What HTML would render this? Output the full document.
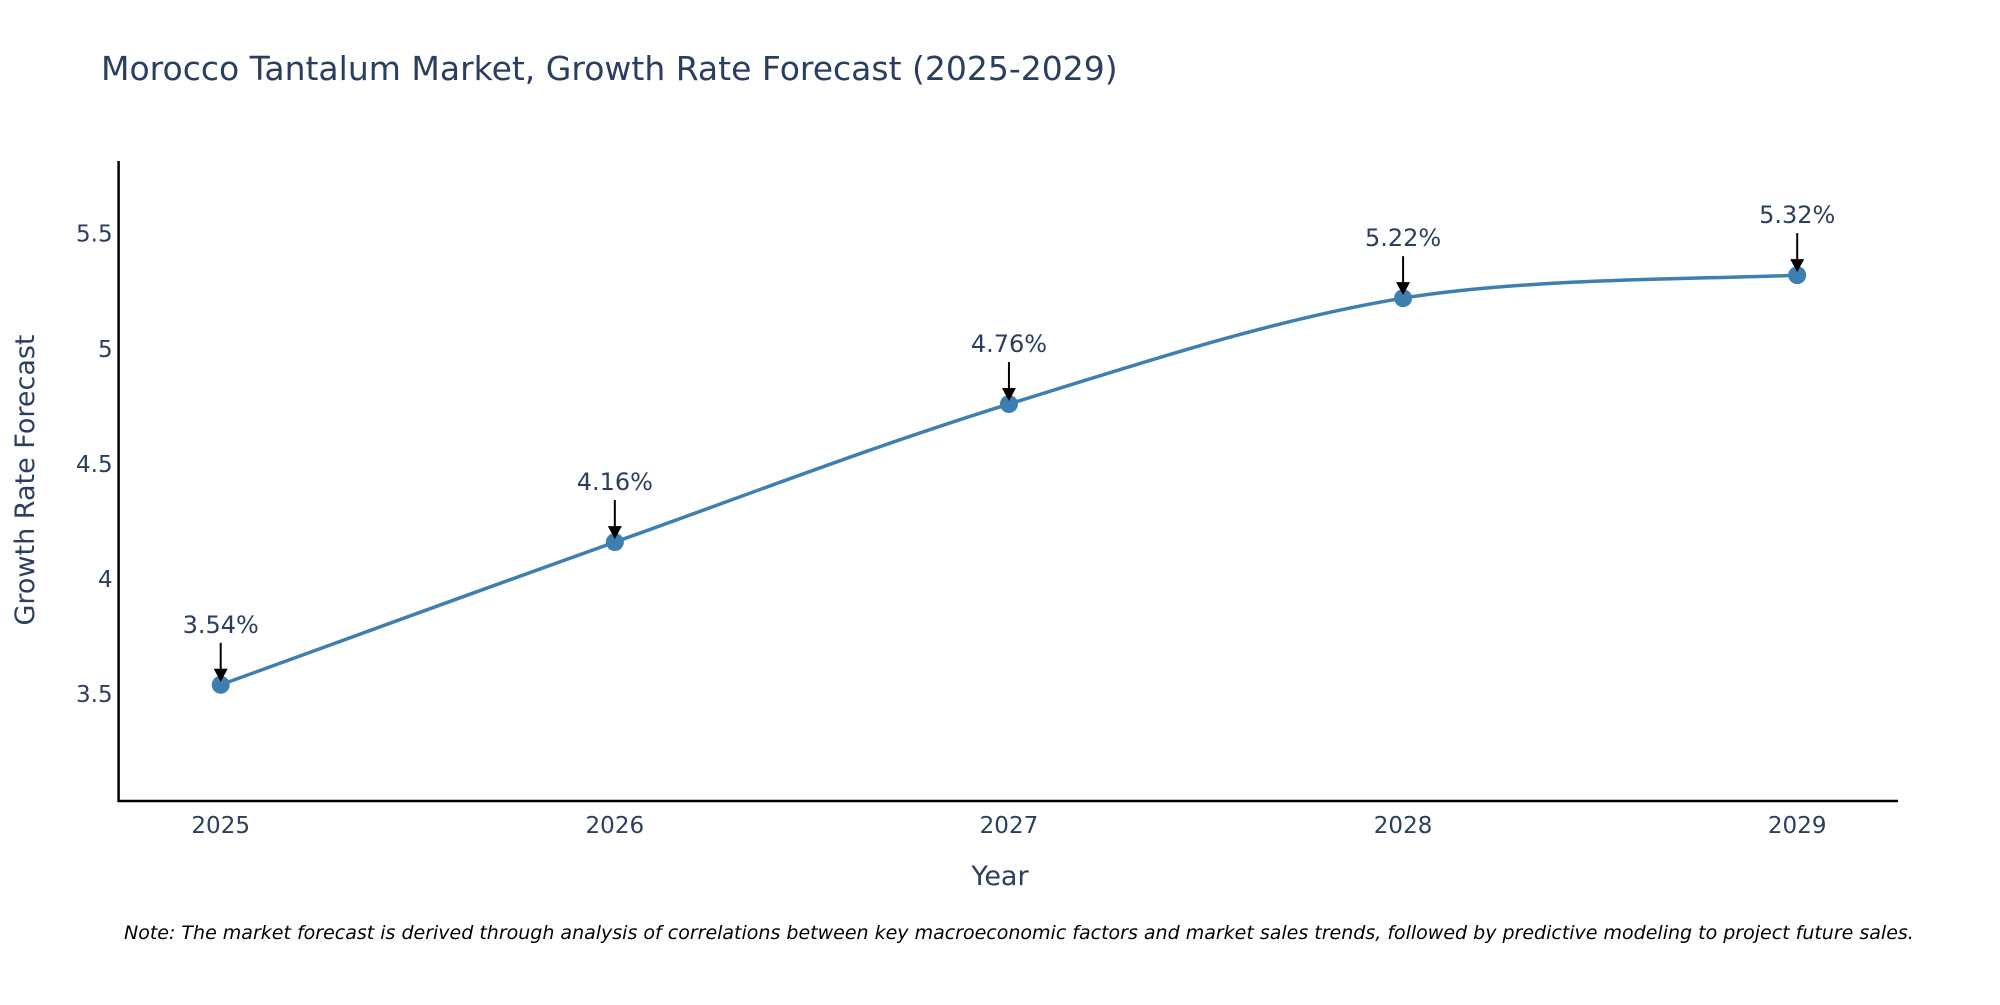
<!DOCTYPE html>
<html><head><meta charset="utf-8"><style>
body{margin:0;background:#fff;}
svg text{font-family:"DejaVu Sans","Liberation Sans",sans-serif;fill:#2a3f5f;}
</style></head><body>
<svg width="2000" height="1000" viewBox="0 0 2000 1000">
<text x="101" y="80" font-size="33">Morocco Tantalum Market, Growth Rate Forecast (2025-2029)</text>
<g id="plot"></g>
<text x="1000" y="885" font-size="27" text-anchor="middle">Year</text>
<text x="0" y="0" font-size="27" text-anchor="middle" transform="translate(34,480) rotate(-90)">Growth Rate Forecast</text>
<text x="124" y="939" font-size="19" font-style="italic" style="fill:#000">Note: The market forecast is derived through analysis of correlations between key macroeconomic factors and market sales trends, followed by predictive modeling to project future sales.</text>
</svg>
<script>
const categories=[2025,2026,2027,2028,2029];
const values=[3.54,4.16,4.76,5.22,5.32];
const valueLabels=["3.54%","4.16%","4.76%","5.22%","5.32%"];
const yTicks=[3.5,4,4.5,5,5.5];
const yTickLabels=["3.5","4","4.5","5","5.5"];
const NS="http://www.w3.org/2000/svg";
const L=118.6,R=1898,T=161,B=801;
const yMin=3.035,yMax=5.816;
const xA=v=>220.7+(v-2025)*(1797.2-220.7)/4;
const yA=v=>B-(v-yMin)/(yMax-yMin)*(B-T);
const g=document.getElementById('plot');
function mk(tag,attrs){const e=document.createElementNS(NS,tag);for(const k in attrs)e.setAttribute(k,attrs[k]);g.appendChild(e);return e;}
let e=mk('line',{x1:L,y1:T,x2:L,y2:B+1,stroke:'#000','stroke-width':2.5});

e=mk('line',{x1:L-1,y1:B,x2:R,y2:B,stroke:'#000','stroke-width':2.5});

yTicks.forEach((t,i)=>{const el=mk('text',{x:L-6,y:yA(t)+8,'font-size':23,'text-anchor':'end'});el.textContent=yTickLabels[i];
});
categories.forEach(c=>{const el=mk('text',{x:xA(c),y:833,'font-size':23,'text-anchor':'middle'});el.textContent=String(c);
});
const pts=categories.map((c,i)=>[xA(c),yA(values[i])]);
let d='M'+pts[0][0]+','+pts[0][1];
for(let i=0;i<pts.length-1;i++){const p0=pts[Math.max(0,i-1)],p1=pts[i],p2=pts[i+1],p3=pts[Math.min(pts.length-1,i+2)];
const s=1/6;d+=' C'+(p1[0]+(p2[0]-p0[0])*s)+','+(p1[1]+(p2[1]-p0[1])*s)+' '+(p2[0]-(p3[0]-p1[0])*s)+','+(p2[1]-(p3[1]-p1[1])*s)+' '+p2[0]+','+p2[1];}
e=mk('path',{d:d,fill:'none',stroke:'#3d7fb0','stroke-width':3.5});

pts.forEach((p,i)=>{const c=mk('circle',{cx:p[0],cy:p[1],r:9,fill:'#3d7fb0'});

const a=mk('line',{x1:p[0],y1:p[1]-42,x2:p[0],y2:p[1]-14,stroke:'#000','stroke-width':2});

const h=mk('polygon',{points:(p[0]-7)+','+(p[1]-16)+' '+(p[0]+7)+','+(p[1]-16)+' '+p[0]+','+(p[1]-3),fill:'#000'});

const t=mk('text',{x:p[0],y:p[1]-52,'font-size':24,'text-anchor':'middle'});t.textContent=valueLabels[i];
});
</script>
</body></html>
